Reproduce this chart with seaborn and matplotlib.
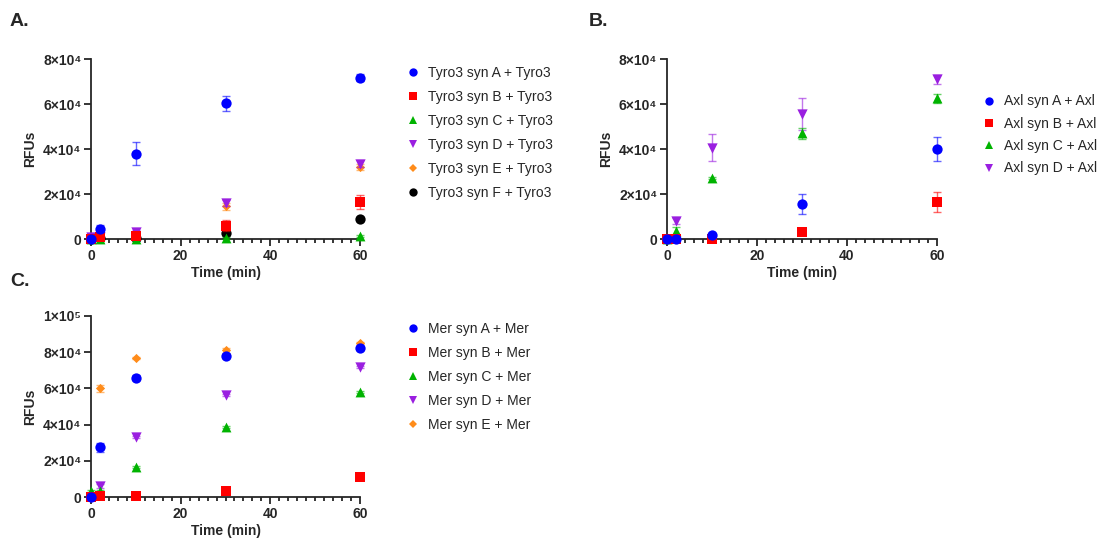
import numpy as np
import pandas as pd
import matplotlib
matplotlib.use("Agg")
import matplotlib.pyplot as plt
from matplotlib.lines import Line2D
from matplotlib.ticker import MultipleLocator, FixedLocator, FixedFormatter
import seaborn as sns

sns.set_style("ticks")
plt.rcParams['font.family'] = ['Liberation Sans', 'DejaVu Sans']

time = [0, 2, 10, 30, 60]

# Panel A - Tyro3
tyro3_labels = ["Tyro3 syn A + Tyro3", "Tyro3 syn B + Tyro3", "Tyro3 syn C + Tyro3",
                "Tyro3 syn D + Tyro3", "Tyro3 syn E + Tyro3", "Tyro3 syn F + Tyro3"]
tyro3_A = [0, 4600, 38000, 60300, 71800]
tyro3_B = [0, 1000, 1500, 6000, 16500]
tyro3_C = [0, 0, 0, 500, 1500]
tyro3_D = [1000, 1000, 3000, 16000, 33500]
tyro3_E = [500, 500, 2000, 14500, 32000]
tyro3_F = [0, 500, 500, 2500, 8800]
tyro3_A_err = [300, 1500, 5000, 3500, 1500]
tyro3_B_err = [200, 500, 800, 2500, 3000]
tyro3_C_err = [0, 0, 0, 300, 500]
tyro3_D_err = [500, 500, 1000, 1500, 1500]
tyro3_E_err = [200, 300, 800, 1500, 1500]
tyro3_F_err = [0, 200, 200, 500, 500]

# Panel B - Axl
axl_labels = ["Axl syn A + Axl", "Axl syn B + Axl", "Axl syn C + Axl", "Axl syn D + Axl"]
axl_A = [0, 0, 1800, 15500, 40000]
axl_B = [0, 0, 0, 3200, 16500]
axl_C = [0, 3500, 27000, 47000, 62500]
axl_D = [0, 8000, 40500, 55500, 71000]
axl_A_err = [0, 300, 500, 4500, 5500]
axl_B_err = [0, 0, 0, 300, 4500]
axl_C_err = [0, 2000, 500, 2500, 2000]
axl_D_err = [0, 1500, 6000, 7000, 2000]

# Panel C - Mer
mer_labels = ["Mer syn A + Mer", "Mer syn B + Mer", "Mer syn C + Mer",
              "Mer syn D + Mer", "Mer syn E + Mer"]
mer_A = [0, 27500, 66000, 77800, 82500]
mer_B = [0, 500, 500, 3500, 11000]
mer_C = [3500, 3500, 16500, 38500, 58000]
mer_D = [0, 6000, 33000, 56500, 72000]
mer_E = [0, 60000, 77000, 81000, 85000]
mer_A_err = [300, 2500, 1500, 1000, 1000]
mer_B_err = [0, 200, 200, 500, 500]
mer_C_err = [500, 500, 500, 500, 500]
mer_D_err = [0, 1000, 500, 500, 500]
mer_E_err = [0, 2000, 500, 1500, 500]

colors = ["#0000ff", "#ff0000", "#00b300", "#9a1fe0", "#ff8c1a", "#000000"]
markers = ["o", "s", "^", "v", "D", "o"]
sizes = [55, 50, 50, 55, 22, 55]


def draw_panel(ax, labels, values, errors, ymax, yticks, yticklabels):
    df = pd.DataFrame({
        "time": np.tile(time, len(labels)),
        "rfu": np.concatenate(values),
        "err": np.concatenate(errors),
        "series": np.repeat(labels, len(time)),
    })
    n = len(labels)
    # first series drawn on top
    for i in reversed(range(n)):
        lab = labels[i]
        sub = df[df["series"] == lab]
        z = 3 + (n - i) * 0.1
        ax.errorbar(sub["time"], sub["rfu"], yerr=sub["err"], fmt="none",
                    ecolor=colors[i], alpha=0.6, elinewidth=1, capsize=3,
                    capthick=1, clip_on=False, zorder=z)
        sns.scatterplot(data=sub, x="time", y="rfu", color=colors[i],
                        marker=markers[i], s=sizes[i], linewidth=0, ax=ax,
                        clip_on=False, zorder=z + 0.05, legend=False)
    ax.set_xlim(0, 60)
    ax.set_ylim(0, ymax)
    ax.xaxis.set_major_locator(MultipleLocator(20))
    ax.xaxis.set_minor_locator(MultipleLocator(2))
    ax.yaxis.set_major_locator(FixedLocator(yticks))
    ax.yaxis.set_major_formatter(FixedFormatter(yticklabels))
    ax.tick_params(axis="both", which="major", length=5, width=1.3,
                   labelsize=10, direction="out", pad=2)
    ax.tick_params(axis="x", which="minor", length=3, width=1.3)
    for t in ax.get_xticklabels() + ax.get_yticklabels():
        t.set_fontweight("bold")
    ax.set_xlabel("Time (min)", fontsize=10, fontweight="bold", labelpad=2)
    ax.set_ylabel("RFUs", fontsize=10, fontweight="bold", labelpad=4)
    sns.despine(ax=ax)
    for s in ["left", "bottom"]:
        ax.spines[s].set_linewidth(1.3)
    handles = [Line2D([], [], linestyle="none", marker=markers[i], color=colors[i],
                      markersize=6 if markers[i] != "D" else 4, markeredgewidth=0)
               for i in range(n)]
    return handles


fig = plt.figure(figsize=(11.06, 5.42), dpi=100)
ax_a = fig.add_axes([0.0823, 0.559, 0.2432, 0.332])
ax_b = fig.add_axes([0.603, 0.559, 0.244, 0.332])
ax_c = fig.add_axes([0.0823, 0.083, 0.2432, 0.334])

y8 = [0, 20000, 40000, 60000, 80000]
y8_lab = ["0", "2×10⁴", "4×10⁴", "6×10⁴", "8×10⁴"]
y10 = [0, 20000, 40000, 60000, 80000, 100000]
y10_lab = ["0", "2×10⁴", "4×10⁴", "6×10⁴", "8×10⁴", "1×10⁵"]

h_a = draw_panel(ax_a, tyro3_labels,
                 [tyro3_A, tyro3_B, tyro3_C, tyro3_D, tyro3_E, tyro3_F],
                 [tyro3_A_err, tyro3_B_err, tyro3_C_err, tyro3_D_err, tyro3_E_err, tyro3_F_err],
                 80000, y8, y8_lab)
h_b = draw_panel(ax_b, axl_labels, [axl_A, axl_B, axl_C, axl_D],
                 [axl_A_err, axl_B_err, axl_C_err, axl_D_err],
                 80000, y8, y8_lab)
h_c = draw_panel(ax_c, mer_labels, [mer_A, mer_B, mer_C, mer_D, mer_E],
                 [mer_A_err, mer_B_err, mer_C_err, mer_D_err, mer_E_err],
                 100000, y10, y10_lab)

leg_kw = dict(loc="upper left", frameon=False, fontsize=10, handletextpad=0.6,
              handlelength=1.0, borderaxespad=0, bbox_transform=fig.transFigure)
ax_a.legend(h_a, tyro3_labels, bbox_to_anchor=(0.362, 0.888), labelspacing=0.72, **leg_kw)
ax_b.legend(h_b, axl_labels, bbox_to_anchor=(0.883, 0.836), labelspacing=0.6, **leg_kw)
ax_c.legend(h_c, mer_labels, bbox_to_anchor=(0.362, 0.416), labelspacing=0.72, **leg_kw)

fig.text(0.009, 0.96, "A.", fontsize=14, fontweight="bold", va="center")
fig.text(0.532, 0.96, "B.", fontsize=14, fontweight="bold", va="center")
fig.text(0.009, 0.48, "C.", fontsize=14, fontweight="bold", va="center")

fig.savefig("out.png", dpi=100)
